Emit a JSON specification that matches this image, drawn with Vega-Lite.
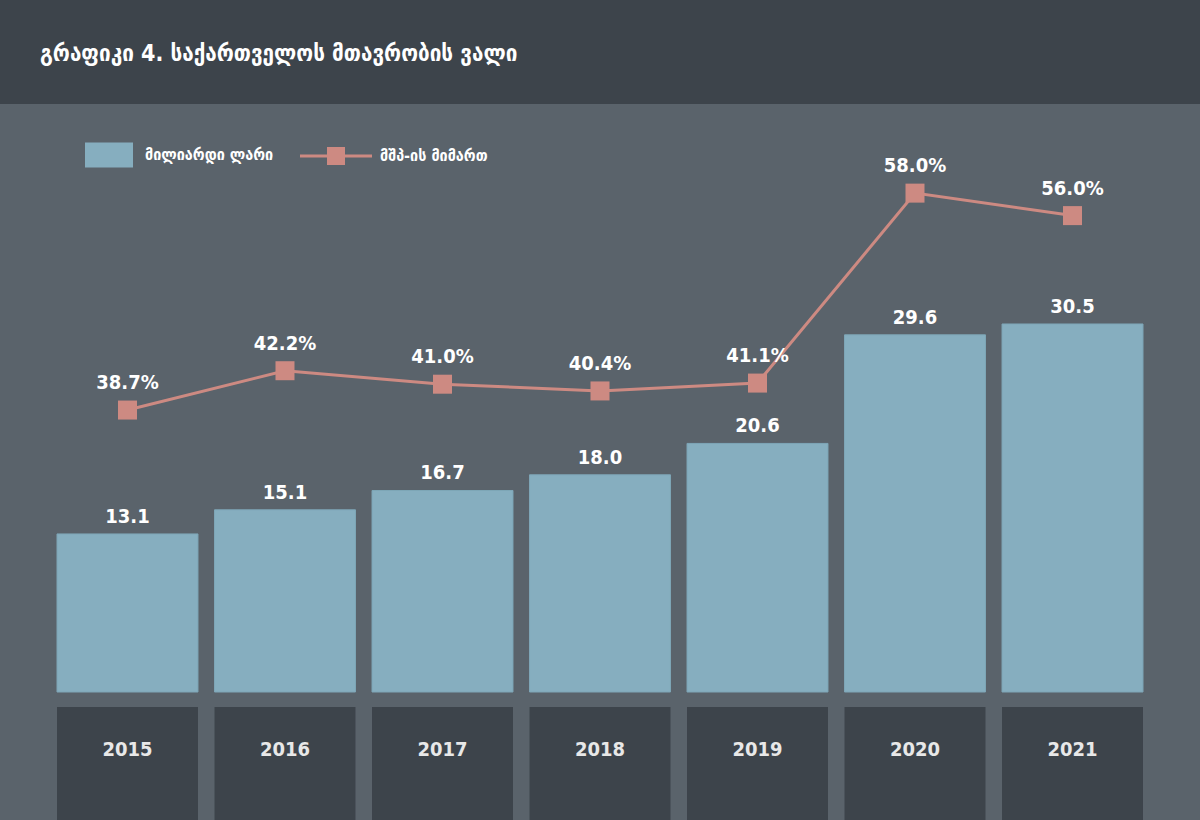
{
  "$schema": "https://vega.github.io/schema/vega-lite/v6.json",
  "padding": 0,
  "spacing": 0,
  "background": "#5a636b",
  "config": {
    "view": {"stroke": null},
    "concat": {"spacing": 0},
    "text": {"font": "DejaVu Sans Condensed", "fontWeight": "bold", "color": "#ffffff"}
  },
  "datasets": {
    "debt": [
      {"year": "2015", "bln": 13.1, "gdp": 38.7},
      {"year": "2016", "bln": 15.1, "gdp": 42.2},
      {"year": "2017", "bln": 16.7, "gdp": 41.0},
      {"year": "2018", "bln": 18.0, "gdp": 40.4},
      {"year": "2019", "bln": 20.6, "gdp": 41.1},
      {"year": "2020", "bln": 29.6, "gdp": 58.0},
      {"year": "2021", "bln": 30.5, "gdp": 56.0}
    ]
  },
  "vconcat": [
    {
      "width": 1200,
      "height": 104,
      "view": {"fill": "#3d444b", "stroke": null},
      "title": {
        "text": "გრაფიკი 4. საქართველოს მთავრობის ვალი",
        "orient": "top",
        "anchor": "start",
        "offset": -89,
        "dx": 40,
        "baseline": "bottom",
        "font": "DejaVu Sans Condensed",
        "fontWeight": "bold",
        "fontSize": 23,
        "color": "#ffffff"
      },
      "data": {"values": [{}]},
      "mark": {"type": "text", "text": ""}
    },
    {
      "width": 1200,
      "height": 603,
      "data": {"name": "debt"},
      "encoding": {
        "x": {
          "field": "year",
          "type": "ordinal",
          "axis": null,
          "scale": {"paddingInner": 0.105, "paddingOuter": 0.362}
        }
      },
      "layer": [
        {
          "encoding": {
            "y": {
              "field": "bln",
              "type": "quantitative",
              "axis": null,
              "scale": {"domain": [-1.243, 48.73], "nice": false, "zero": false}
            }
          },
          "layer": [
            {
              "mark": {"type": "bar", "stroke": "#7ea6b7", "strokeWidth": 1},
              "encoding": {
                "fill": {
                  "datum": "მილიარდი ლარი",
                  "scale": {"range": ["#86aebf"]},
                  "legend": {
                    "title": null,
                    "orient": "none",
                    "legendX": 85,
                    "legendY": 131,
                    "symbolType": "M-1,-0.52H1V0.52H-1Z",
                    "symbolSize": 2304,
                    "symbolStrokeWidth": 0,
                    "labelOffset": 12,
                    "labelFont": "DejaVu Sans Condensed",
                    "labelFontWeight": "bold",
                    "labelFontSize": 16,
                    "labelColor": "#ffffff"
                  }
                }
              }
            },
            {
              "mark": {"type": "text", "baseline": "alphabetic", "dy": -11, "fontSize": 20},
              "encoding": {"text": {"field": "bln", "type": "quantitative", "format": ".1f"}}
            }
          ]
        },
        {
          "encoding": {
            "y": {
              "field": "gdp",
              "type": "quantitative",
              "axis": null,
              "scale": {"domain": [12.28, 65.93], "nice": false, "zero": false}
            }
          },
          "layer": [
            {
              "mark": {"type": "line", "strokeWidth": 3},
              "encoding": {
                "stroke": {
                  "datum": "მშპ-ის მიმართ",
                  "scale": {"range": ["#cd8a82"]},
                  "legend": {
                    "title": null,
                    "orient": "none",
                    "legendX": 300,
                    "legendY": 120,
                    "symbolType": "M-1,-0.042H1V0.042H-1ZM-0.25,-0.25H0.25V0.25H-0.25Z",
                    "symbolSize": 5184,
                    "labelOffset": 8,
                    "labelFont": "DejaVu Sans Condensed",
                    "labelFontWeight": "bold",
                    "labelFontSize": 16,
                    "labelColor": "#ffffff",
                    "encode": {
                      "symbols": {
                        "update": {
                          "fill": {"value": "#cd8a82"},
                          "strokeWidth": {"value": 0}
                        }
                      }
                    }
                  }
                }
              }
            },
            {
              "mark": {"type": "square", "size": 361, "filled": true, "opacity": 1, "color": "#cd8a82"}
            },
            {
              "transform": [{"calculate": "format(datum.gdp, '.1f') + '%'", "as": "gdp_label"}],
              "mark": {"type": "text", "baseline": "alphabetic", "dy": -21, "fontSize": 20},
              "encoding": {"text": {"field": "gdp_label"}}
            }
          ]
        }
      ],
      "resolve": {"scale": {"y": "independent"}}
    },
    {
      "width": 1200,
      "height": 113,
      "data": {"name": "debt"},
      "encoding": {
        "x": {
          "field": "year",
          "type": "ordinal",
          "axis": null,
          "scale": {"paddingInner": 0.105, "paddingOuter": 0.362}
        }
      },
      "layer": [
        {"mark": {"type": "bar", "color": "#3d444b"}},
        {
          "mark": {"type": "text", "baseline": "alphabetic", "dy": -8, "fontSize": 20, "color": "#e8e8e8"},
          "encoding": {"text": {"field": "year"}}
        }
      ]
    }
  ]
}
